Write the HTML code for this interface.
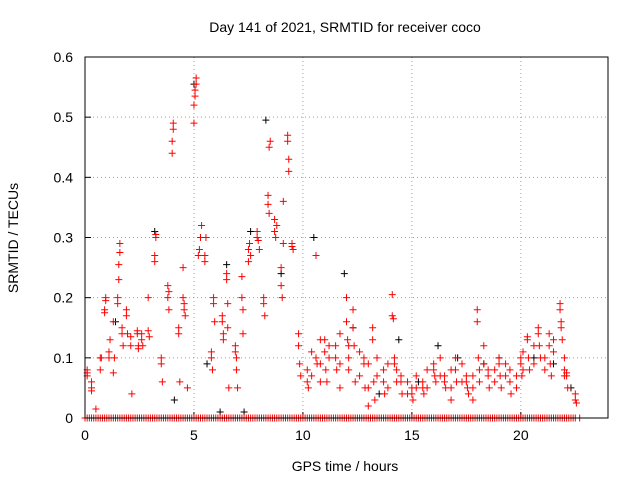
<!DOCTYPE html>
<html><head><meta charset="utf-8"><style>
html,body{margin:0;padding:0;background:#fff;}
svg text{font-family:"Liberation Sans",sans-serif;font-size:14px;fill:#000;}
</style></head><body>
<svg id="chart" width="640" height="480" xmlns="http://www.w3.org/2000/svg">
<text x="345" y="32" text-anchor="middle">Day 141 of 2021, SRMTID for receiver coco</text>
<text x="345" y="471" text-anchor="middle">GPS time / hours</text>
<text transform="translate(18,238) rotate(-90)" text-anchor="middle">SRMTID / TECUs</text>
<g id="grid"></g>
<g id="ticks"></g>
<g id="marks"></g>
<rect x="85" y="57" width="523" height="361" fill="none" stroke="#000" stroke-width="1"/>
</svg>
<script>
const xTicks=[0,5,10,15,20];
const yTicks=[0,0.1,0.2,0.3,0.4,0.5,0.6];
const yTickLabels=["0","0.1","0.2","0.3","0.4","0.5","0.6"];
const redHours=[0.1,0.1,0.1,0.3,0.3,0.3,0.5,0.7,0.7,0.75,0.9,0.9,0.95,0.95,1.1,1.1,1.15,1.3,1.3,1.35,1.5,1.5,1.55,1.55,1.6,1.6,1.7,1.7,1.75,1.9,1.9,1.95,2.1,2.1,2.15,2.4,2.4,2.45,2.45,2.6,2.6,2.65,2.9,2.9,2.95,3.2,3.2,3.25,3.25,3.5,3.5,3.55,3.8,3.8,3.85,3.85,4.0,4.0,4.05,4.05,4.3,4.3,4.35,4.5,4.5,4.55,4.55,4.6,4.7,5.0,5.0,5.05,5.05,5.1,5.1,5.2,5.25,5.3,5.35,5.5,5.5,5.55,5.8,5.8,5.85,5.9,5.9,5.95,6.3,6.3,6.35,6.35,6.5,6.5,6.55,6.55,6.6,6.9,6.9,6.95,6.95,7.0,7.2,7.2,7.25,7.25,7.5,7.5,7.55,7.6,7.9,7.9,7.95,8.0,8.2,8.2,8.25,8.4,8.4,8.45,8.45,8.5,8.7,8.7,8.75,8.8,9.0,9.0,9.05,9.1,9.1,9.3,9.3,9.35,9.35,9.5,9.5,9.55,9.8,9.8,9.85,9.9,10.2,10.2,10.25,10.6,10.6,10.65,11.0,11.0,11.05,11.1,11.5,11.5,11.55,12.0,12.0,12.05,12.1,12.3,12.3,12.35,12.4,12.8,12.8,12.85,13.2,13.2,13.25,13.3,13.7,13.7,13.75,14.1,14.1,14.15,14.2,14.2,14.5,14.5,14.55,15.0,15.0,15.05,15.5,15.5,15.55,16.0,16.0,16.05,16.1,16.5,16.5,16.55,17.0,17.0,17.05,17.5,17.5,17.55,17.6,18.0,18.0,18.05,18.1,18.1,18.5,18.5,18.55,19.0,19.0,19.05,19.1,19.5,19.5,19.55,20.0,20.0,20.05,20.3,20.3,20.35,20.4,20.8,20.8,20.85,20.9,21.3,21.3,21.35,21.4,21.8,21.8,21.85,21.85,21.9,22.1,22.1,22.15,22.5,22.5,22.55,
10.4,10.4,10.8,10.8,10.8,11.2,11.2,11.7,11.7,11.7,12.1,12.1,12.6,12.6,13.0,13.0,13.0,13.4,13.4,13.9,13.9,14.3,14.3,14.8,14.8,15.2,15.2,15.7,15.7,16.3,16.3,16.8,16.8,16.8,17.3,17.3,17.8,17.8,17.8,18.3,18.3,18.8,18.8,19.3,19.3,19.8,19.8,20.1,20.1,20.6,20.6,21.1,21.1,21.5,21.5,22.0,22.0,22.0,
0.0,0.2,0.4,0.6,0.8,1.0,1.2,1.4,1.6,1.8,2.0,2.2,2.4,2.6,2.8,3.0,3.2,3.4,3.6,3.8,4.0,4.2,4.4,4.6,4.8,5.0,5.2,5.4,5.6,5.8,6.0,6.2,6.4,6.6,6.8,7.0,7.2,7.4,7.6,7.8,8.0,8.2,8.4,8.6,8.8,9.0,9.2,9.4,9.6,9.8,10.0,10.2,10.4,10.6,10.8,11.0,11.2,11.4,11.6,11.8,12.0,12.2,12.4,12.6,12.8,13.0,13.2,13.4,13.6,13.8,14.0,14.2,14.4,14.6,14.8,15.0,15.2,15.4,15.6,15.8,16.0,16.2,16.4,16.6,16.8,17.0,17.2,17.4,17.6,17.8,18.0,18.2,18.4,18.6,18.8,19.0,19.2,19.4,19.6,19.8,20.0,20.2,20.4,20.6,20.8,21.0,21.2,21.4,21.6,21.8,22.0,22.2,22.4,22.7,
0.1,0.3,0.5,0.7,0.9,1.1,1.3,1.5,1.7,1.9,2.1,2.3,2.5,2.7,2.9,3.1,3.3,3.5,3.7,3.9,4.1,4.3,4.5,4.7,4.9,5.1,5.3,5.5,5.7,5.9,6.1,6.3,6.5,6.7,6.9,7.1,7.3,7.5,7.7,7.9,8.1,8.3,8.5,8.7,8.9,9.1,9.3,9.5,9.7,9.9,10.1,10.3,10.5,10.7,10.9,11.1,11.3,11.5,11.7,11.9,12.1,12.3,12.5,12.7,12.9,13.1,13.3,13.5,13.7,13.9,14.1,14.3,14.5,14.7,14.9,15.1,15.3,15.5,15.7,15.9,16.1,16.3,16.5,16.7,16.9,17.1,17.3,17.5,17.7,17.9,18.1,18.3,18.5,18.7,18.9,19.1,19.3,19.5,19.7,19.9,20.1,20.3,20.5,20.7,20.9,21.1,21.3,21.5,21.7,21.9,22.1,22.3,22.5];
const redValues=[0.07,0.075,0.08,0.06,0.05,0.045,0.015,0.08,0.1,0.1,0.175,0.18,0.195,0.2,0.1,0.11,0.13,0.16,0.075,0.1,0.19,0.2,0.23,0.255,0.275,0.29,0.14,0.15,0.12,0.18,0.17,0.14,0.135,0.12,0.04,0.145,0.14,0.12,0.115,0.14,0.13,0.12,0.2,0.145,0.135,0.26,0.27,0.3,0.305,0.09,0.1,0.06,0.22,0.2,0.18,0.21,0.44,0.46,0.48,0.49,0.15,0.14,0.06,0.25,0.2,0.19,0.18,0.17,0.05,0.49,0.52,0.535,0.545,0.555,0.565,0.27,0.28,0.3,0.32,0.26,0.27,0.3,0.11,0.1,0.08,0.2,0.19,0.16,0.17,0.16,0.14,0.13,0.24,0.23,0.19,0.15,0.05,0.12,0.11,0.1,0.08,0.05,0.235,0.2,0.18,0.14,0.26,0.28,0.29,0.27,0.3,0.31,0.295,0.28,0.2,0.19,0.17,0.37,0.355,0.34,0.45,0.46,0.33,0.31,0.3,0.32,0.25,0.22,0.2,0.29,0.36,0.47,0.46,0.43,0.41,0.29,0.285,0.28,0.14,0.12,0.09,0.07,0.08,0.06,0.05,0.27,0.1,0.09,0.13,0.11,0.08,0.06,0.12,0.1,0.08,0.2,0.16,0.13,0.1,0.18,0.15,0.12,0.06,0.1,0.09,0.05,0.15,0.13,0.06,0.03,0.08,0.06,0.04,0.205,0.17,0.165,0.1,0.09,0.07,0.06,0.04,0.05,0.04,0.03,0.06,0.05,0.04,0.09,0.08,0.07,0.06,0.07,0.06,0.05,0.1,0.08,0.06,0.07,0.06,0.05,0.04,0.18,0.16,0.1,0.08,0.06,0.08,0.07,0.05,0.1,0.09,0.07,0.05,0.08,0.06,0.04,0.1,0.09,0.07,0.135,0.13,0.1,0.08,0.15,0.14,0.12,0.1,0.14,0.12,0.09,0.07,0.19,0.18,0.16,0.15,0.13,0.075,0.07,0.05,0.04,0.03,0.025,
0.11,0.07,0.13,0.09,0.06,0.1,0.12,0.14,0.09,0.05,0.12,0.08,0.11,0.07,0.09,0.05,0.02,0.1,0.07,0.09,0.05,0.08,0.06,0.06,0.04,0.07,0.05,0.08,0.05,0.1,0.07,0.08,0.05,0.03,0.09,0.06,0.07,0.05,0.03,0.12,0.09,0.08,0.06,0.09,0.07,0.07,0.05,0.11,0.08,0.12,0.09,0.1,0.08,0.13,0.11,0.1,0.08,0.07,
0,0,0,0,0,0,0,0,0,0,0,0,0,0,0,0,0,0,0,0,0,0,0,0,0,0,0,0,0,0,0,0,0,0,0,0,0,0,0,0,0,0,0,0,0,0,0,0,0,0,0,0,0,0,0,0,0,0,0,0,0,0,0,0,0,0,0,0,0,0,0,0,0,0,0,0,0,0,0,0,0,0,0,0,0,0,0,0,0,0,0,0,0,0,0,0,0,0,0,0,0,0,0,0,0,0,0,0,0,0,0,0,0,0,
0,0,0,0,0,0,0,0,0,0,0,0,0,0,0,0,0,0,0,0,0,0,0,0,0,0,0,0,0,0,0,0,0,0,0,0,0,0,0,0,0,0,0,0,0,0,0,0,0,0,0,0,0,0,0,0,0,0,0,0,0,0,0,0,0,0,0,0,0,0,0,0,0,0,0,0,0,0,0,0,0,0,0,0,0,0,0,0,0,0,0,0,0,0,0,0,0,0,0,0,0,0,0,0,0,0,0,0,0,0,0,0,0];
const blackHours=[1.4,3.2,4.1,5.0,5.6,6.5,7.6,8.3,9.0,10.5,11.9,12.3,13.5,14.4,15.3,16.2,17.1,18.3,19.0,20.6,21.5,22.3,6.2,7.3];
const blackValues=[0.16,0.31,0.03,0.555,0.09,0.255,0.31,0.495,0.24,0.3,0.24,0.15,0.04,0.13,0.06,0.12,0.1,0.09,0.1,0.1,0.09,0.05,0.01,0.01];

const L=85,R=608,T=57,B=418,XMAX=24,YMAX=0.6;
const sx=h=>L+h/XMAX*(R-L);
const sy=v=>B-v/YMAX*(B-T);
const NS="http://www.w3.org/2000/svg";
const grid=document.getElementById('grid'),ticks=document.getElementById('ticks'),marks=document.getElementById('marks');
function mk(tag,attrs,parent){const e=document.createElementNS(NS,tag);for(const k in attrs)e.setAttribute(k,attrs[k]);parent.appendChild(e);return e;}
xTicks.forEach(t=>{
  const x=sx(t);
  if(t>0){const g=mk('line',{x1:x,x2:x,y1:T,y2:B,stroke:'#a0a0a0','stroke-dasharray':'1,3'},grid);
  
  }
  const tk=mk('line',{x1:x,x2:x,y1:B,y2:B-6,stroke:'#000'},ticks);
  
  
  const tx=mk('text',{x:x,y:B+22,'text-anchor':'middle'},ticks);tx.textContent=t;
  
  
});
yTicks.forEach((t,i)=>{
  const y=sy(t);
  if(t>0&&t<YMAX){const g=mk('line',{x1:L,x2:R,y1:y,y2:y,stroke:'#a0a0a0','stroke-dasharray':'1,3'},grid);
  
  }
  const tk=mk('line',{x1:L,x2:L+6,y1:y,y2:y,stroke:'#000'},ticks);
  
  
  const tx=mk('text',{x:L-12,y:y+5,'text-anchor':'end'},ticks);tx.textContent=yTickLabels[i];
  
  
});
function plus(h,v,color,name){
  const x=sx(h),y=sy(v);
  const p=mk('path',{d:`M${x-3.5},${y}H${x+3.5}M${x},${y-3.5}V${y+3.5}`,stroke:color,'stroke-width':1,fill:'none'},marks);
  
  
}
blackHours.forEach((h,i)=>plus(h,blackValues[i],'#000','black-point'));
redHours.forEach((h,i)=>plus(h,redValues[i],'#ff0000','red-point'));
</script>
</body></html>
